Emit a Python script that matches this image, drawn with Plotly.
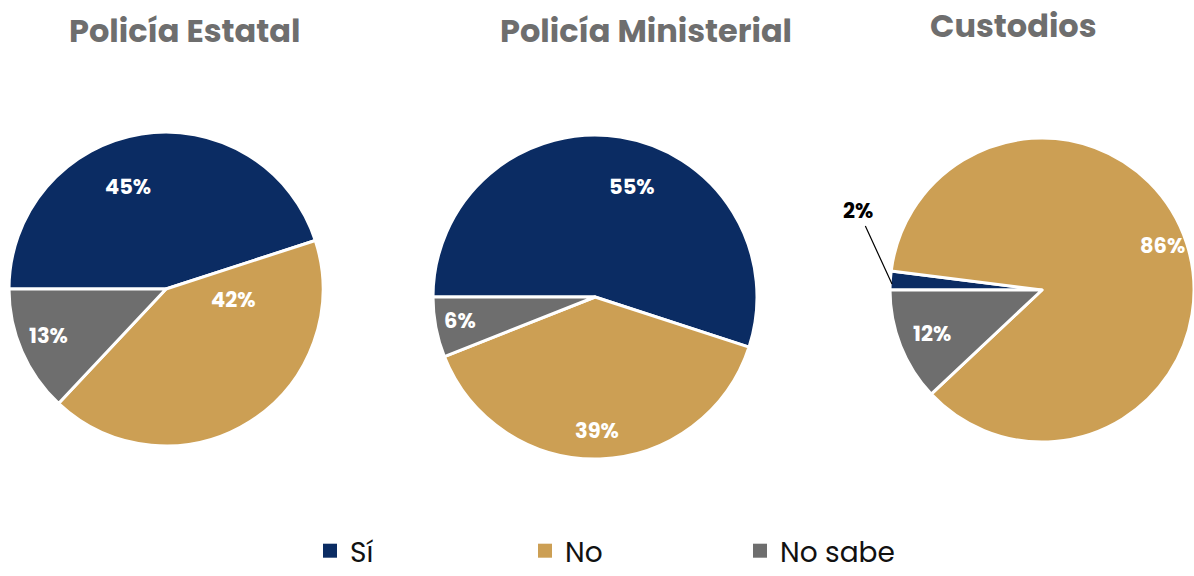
import plotly.graph_objects as go

# ---- data ----
labels = ["Sí", "No", "No sabe"]
titles = ["Policía Estatal", "Policía Ministerial", "Custodios"]
estatal = [45, 42, 13]
ministerial = [55, 39, 6]
custodios = [2, 86, 12]
colors = ["#0b2c63", "#cc9f54", "#6e6e6e"]

W, H = 1194, 576
FONT = "Poppins, Open Sans, sans-serif"

def dom(cx, cy, r):
    return dict(x=[(cx - r) / W, (cx + r) / W], y=[(H - cy - r) / H, (H - cy + r) / H])

# layout: pie placement (center x, center y, radius) and label positions (px)
pie_boxes = [(166, 289, 157), (595, 297, 162), (1042, 290, 152)]
label_pos = [
    [(128, 186), (233, 299), (48, 335)],
    [(632, 186), (597, 430), (460, 320)],
    [None, (1162, 245), (932, 333)],
]
title_pos = [(185, 30), (646, 30), (1013, 25)]

fig = go.Figure()
series = [estatal, ministerial, custodios]
for i, (vals, box) in enumerate(zip(series, pie_boxes)):
    fig.add_trace(go.Pie(
        labels=labels, values=vals, sort=False, direction="clockwise", rotation=270,
        marker=dict(colors=colors, line=dict(color="white", width=3)),
        textposition="none",
        domain=dom(*box), showlegend=False, hoverinfo="label+percent",
    ))

# legend entries (square swatches)
for lab, col in zip(labels, colors):
    fig.add_trace(go.Scatter(x=[None], y=[None], mode="markers", name=lab,
                             marker=dict(symbol="square", size=14, color=col),
                             showlegend=True, hoverinfo="skip"))
fig.update_xaxes(visible=False)
fig.update_yaxes(visible=False)

annotations = []
for t, (x, y) in zip(titles, title_pos):
    annotations.append(dict(text=t, x=x / W, y=1 - y / H, xref="paper", yref="paper",
                            showarrow=False, xanchor="center", yanchor="middle",
                            font=dict(family=FONT, size=32, color="#6e6e6e", weight="bold")))
for vals, poss in zip(series, label_pos):
    for v, p in zip(vals, poss):
        if p is None:
            continue
        annotations.append(dict(text=f"{v}%", x=p[0] / W, y=1 - p[1] / H, xref="paper", yref="paper",
                                showarrow=False, xanchor="center", yanchor="middle",
                                font=dict(family=FONT, size=21, color="white", weight="bold")))
# outside label for the small Custodios slice, with leader line
annotations.append(dict(text=f"{custodios[0]}%", x=892 / W, y=1 - 284 / H, xref="paper", yref="paper",
                        showarrow=True, arrowhead=0, arrowwidth=1.2, arrowcolor="black",
                        ax=-34, ay=-74, xanchor="center", yanchor="middle",
                        font=dict(family=FONT, size=21, color="black", weight="bold")))

fig.update_layout(
    width=W, height=H, margin=dict(l=0, r=0, t=0, b=0, autoexpand=False),
    paper_bgcolor="white", plot_bgcolor="white",
    annotations=annotations,
    legend=dict(orientation="h", x=310 / W, y=0, xanchor="left", yanchor="bottom",
                xref="container", yref="container",
                entrywidth=170, entrywidthmode="pixels", traceorder="normal",
                font=dict(family=FONT, size=28, color="#111111")),
)

fig.write_html("out.html", config={"displayModeBar": False},
               post_script="document.body.style.margin='0';document.body.style.overflow='hidden';")
